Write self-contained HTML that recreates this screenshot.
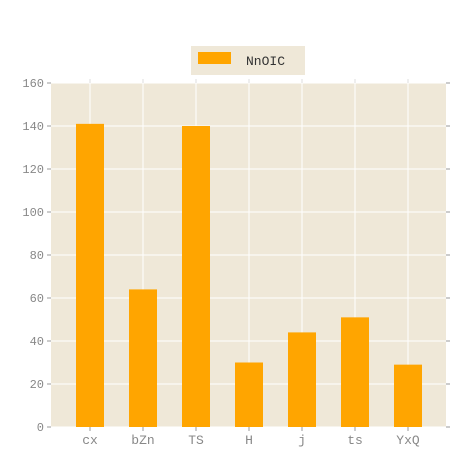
<!DOCTYPE html>
<html><head><meta charset="utf-8"><style>
body{margin:0;background:#fff;}
text{font-family:"Liberation Mono",monospace;}
</style></head><body>
<svg id="chart" width="462" height="462">
<rect x="51" y="83" width="395" height="344" fill="#efe8d8"/>
<g id="grid"></g><g id="bars"></g><g id="axes"></g>
<g>
<rect x="191" y="46" width="114" height="29" fill="#efe8d8"/>
<rect x="198" y="52" width="33" height="12" fill="#ffa500"/>
<text x="246" y="65" font-size="13" fill="#333">NnOIC</text>
</g>
</svg>
<script>
const categories=["cx","bZn","TS","H","j","ts","YxQ"];
const values=[141,64,140,30,44,51,29];
const yTicks=[0,20,40,60,80,100,120,140,160];
const ns="http://www.w3.org/2000/svg";
const x0=51,x1=446,yTop=83,yBot=427,yMax=160;
const step=(x1-x0)/(categories.length+0.45);
function xc(i){return 90+i*53;}
function ys(v){return yBot-(v/yMax)*(yBot-yTop);}
function mk(t,a,p){const e=document.createElementNS(ns,t);for(const k in a)e.setAttribute(k,a[k]);p.appendChild(e);return e;}
const grid=document.getElementById('grid'),bars=document.getElementById('bars'),axes=document.getElementById('axes');
yTicks.forEach(v=>{
 const y=ys(v);
 const l=mk('line',{x1:x0,x2:x1,y1:y,y2:y,stroke:'#fff','stroke-width':1},grid);
 
 
 const t=mk('line',{x1:x0-4,x2:x0,y1:y,y2:y,stroke:'#999'},axes);
 
 
 const t2=mk('line',{x1:x1,x2:x1+4,y1:y,y2:y,stroke:'#999'},axes);
 
 
 const tx=mk('text',{x:x0-7,y:y+4,'text-anchor':'end','font-size':12,fill:'#888'},axes);
 tx.textContent=v;
 
 
});
categories.forEach((c,i)=>{
 const x=xc(i);
 const g=mk('line',{x1:x,x2:x,y1:yTop,y2:yBot,stroke:'#fff'},grid);
 
 
 const tk=mk('line',{x1:x,x2:x,y1:yTop-4,y2:yTop,stroke:'#ddd'},axes);
 
 
 const tb=mk('line',{x1:x,x2:x,y1:yBot,y2:yBot+4,stroke:'#999'},axes);
 
 
 const b=mk('rect',{x:x-14,y:ys(values[i]),width:28,height:yBot-ys(values[i]),fill:'#ffa500'},bars);
 
 
 const t=mk('text',{x:x,y:yBot+17,'text-anchor':'middle','font-size':13,fill:'#888'},axes);
 t.textContent=c;
 
 
});
</script>
</body></html>
